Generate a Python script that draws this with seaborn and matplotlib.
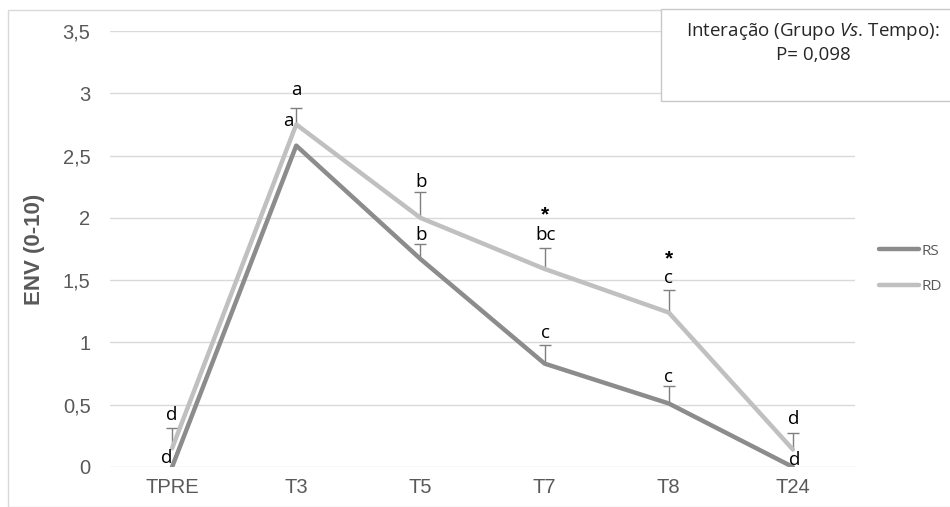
import matplotlib
matplotlib.use("Agg")
import matplotlib.pyplot as plt
import seaborn as sns
import pandas as pd
import numpy as np
from matplotlib.patches import Rectangle
from matplotlib.lines import Line2D

# ---- data ----
times = ["TPRE", "T3", "T5", "T7", "T8", "T24"]
rs_mean = [0.0, 2.58, 1.67, 0.83, 0.51, 0.0]
rs_err = [0.0, 0.0, 0.12, 0.15, 0.14, 0.0]
rd_mean = [0.15, 2.75, 2.0, 1.59, 1.24, 0.14]
rd_err = [0.16, 0.13, 0.21, 0.17, 0.18, 0.13]
rs_letters = ["d", "a", "b", "c", "c", "d"]
rd_letters = ["d", "a", "b", "bc", "c", "d"]
rd_stars = ["", "", "", "*", "*", ""]
groups = ["RS", "RD"]
box_line1 = "Interação (Grupo $\\it{Vs}$. Tempo):"
box_line2 = "P= 0,098"

# ---- styling ----
sns.set_theme(style="white")
plt.rcParams["font.family"] = ["Liberation Sans", "DejaVu Sans"]
plt.rcParams["mathtext.fontset"] = "custom"
plt.rcParams["mathtext.it"] = "Open Sans:italic"
plt.rcParams["mathtext.rm"] = "Open Sans"

col_rs = "#8c8c8c"
col_rd = "#c0c0c0"
tick_col = "#595959"

fig = plt.figure(figsize=(9.5, 5.07), dpi=100)
ax = fig.add_axes([110/950, 1-467/507, 745/950, 436/507])

df = pd.DataFrame({
    "Tempo": times * 2,
    "ENV": rs_mean + rd_mean,
    "Grupo": ["RS"] * len(times) + ["RD"] * len(times),
})
sns.lineplot(data=df, x="Tempo", y="ENV", hue="Grupo", palette={"RS": col_rs, "RD": col_rd},
             linewidth=3.2, legend=False, ax=ax, sort=False, zorder=3)

xs = np.arange(len(times))
for m, e in [(rs_mean, rs_err), (rd_mean, rd_err)]:
    sel = np.array(e) > 0
    eb = ax.errorbar(xs[sel], np.array(m)[sel], yerr=[np.zeros(sel.sum()), np.array(e)[sel]],
                     fmt="none", ecolor="#7f7f7f", elinewidth=1.0, capsize=4, capthick=1.0, zorder=2)
    eb[1][0].set_visible(False)

# letter annotations (offsets in pixels)
rd_off = [(0, 33), (0, 34), (1, 36), (1, 34), (0, 35), (1, 31)]
rs_off = [(-5, 9), (-8, 25), (1, 24), (1, 31), (0, 26), (2, 7)]
lfont = dict(fontsize=13.5, color="black", family=["Open Sans", "DejaVu Sans"],
             ha="center", va="center", annotation_clip=False)
for i in range(len(times)):
    ax.annotate(rd_letters[i], (xs[i], rd_mean[i]), xytext=rd_off[i], textcoords="offset pixels", **lfont)
    ax.annotate(rs_letters[i], (xs[i], rs_mean[i]), xytext=rs_off[i], textcoords="offset pixels", **lfont)
    if rd_stars[i]:
        ax.annotate(rd_stars[i], (xs[i], rd_mean[i]), xytext=(0, 54), textcoords="offset pixels",
                    fontsize=15, fontweight="bold", color="black", ha="center", va="center")

ax.set_xlim(-0.5, len(times) - 0.5)
ax.set_ylim(0, 3.5)
yt = np.arange(0, 3.51, 0.5)
ax.set_yticks(yt)
ax.set_yticklabels([("%g" % v).replace(".", ",") for v in yt])
ax.yaxis.grid(True, color="#d9d9d9", linewidth=1.0)
ax.xaxis.grid(False)
for s in ax.spines.values():
    s.set_visible(False)
ax.tick_params(axis="both", length=0, labelsize=14.5, labelcolor=tick_col)
ax.tick_params(axis="y", pad=14)
ax.tick_params(axis="x", pad=8)
ax.set_xlabel("")
ax.set_ylabel("ENV (0-10)", fontsize=16, fontweight="bold", color=tick_col)
ax.yaxis.set_label_coords(-65/745, 0.5)

# legend
handles = [Line2D([], [], color=col_rs, lw=3.2), Line2D([], [], color=col_rd, lw=3.2)]
leg = fig.legend(handles, groups, loc="center left", bbox_to_anchor=(879/950, 1-269/507),
                 frameon=False, handlelength=2.6, handletextpad=0.15, labelspacing=1.35,
                 borderaxespad=0, borderpad=0,
                 prop={"family": "Open Sans", "size": 11})
for t in leg.get_texts():
    t.set_color(tick_col)

# outer chart border
fig.patches.append(Rectangle((8/950, 0), 1.2, 1 - 10/507, transform=fig.transFigure,
                             fill=False, edgecolor="#d9d9d9", lw=1.0))

# info box
fig.patches.append(Rectangle((661/950, 1 - 101/507), 300/950, 92/507, transform=fig.transFigure,
                             facecolor="white", edgecolor="#c8c8c8", lw=1.0, zorder=5))
fig.text(813/950, 1 - 32/507, box_line1, ha="center", va="center", fontsize=13.5,
         family=["Open Sans", "DejaVu Sans"], color="#262626", zorder=6)
fig.text(813/950, 1 - 55/507, box_line2, ha="center", va="center", fontsize=13.5,
         family=["Open Sans", "DejaVu Sans"], color="#262626", zorder=6)

fig.savefig("out.png", dpi=100, facecolor="white")
